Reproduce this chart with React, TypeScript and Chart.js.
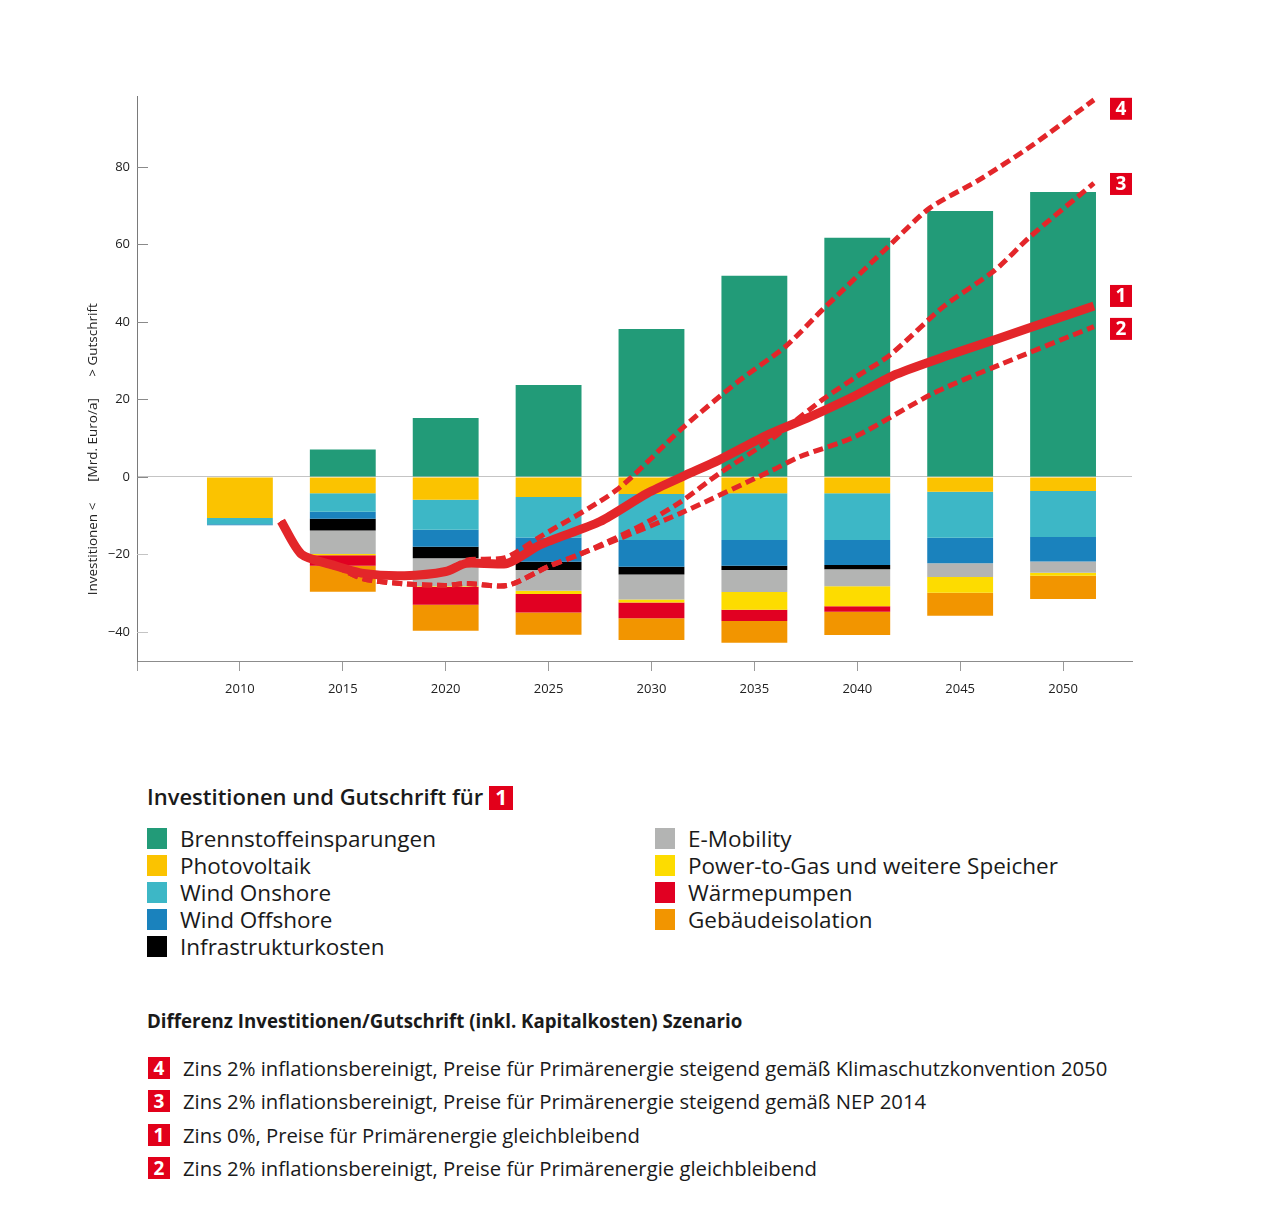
import { useEffect, useRef } from 'react';
import { Chart, registerables } from 'chart.js';

Chart.register(...registerables);

// ---------- data ----------
const years = [2010, 2015, 2020, 2025, 2030, 2035, 2040, 2045, 2050];
const brennstoff = [0, 7.1, 15.2, 23.7, 38.2, 51.9, 61.7, 68.6, 73.5];
const photovoltaik = [-10.6, -4.2, -5.9, -5.2, -4.4, -4.2, -4.2, -3.8, -3.6];
const windOnshore = [-1.6, -4.8, -7.7, -10.4, -11.9, -12.1, -12.1, -11.9, -11.9];
const windOffshore = [-0.3, -1.8, -4.4, -6.3, -6.9, -6.6, -6.4, -6.6, -6.3];
const infrastruktur = [0, -3.0, -3.0, -2.1, -2.0, -1.1, -1.1, 0, 0];
const eMobility = [0, -6.1, -7.2, -5.4, -6.4, -5.7, -4.4, -3.5, -2.9];
const powerToGas = [0, -0.3, -0.2, -0.8, -0.8, -4.6, -5.2, -4.1, -0.8];
const waermepumpen = [0, -2.7, -4.6, -4.8, -4.1, -2.9, -1.4, 0, 0];
const gebaeude = [0, -6.7, -6.7, -5.7, -5.6, -5.6, -6.0, -5.9, -6.0];

const s1Years = [2012, 2013, 2014.5, 2016, 2018, 2020, 2021, 2023, 2024.6, 2027.5, 2029.8, 2031.6, 2033.3, 2035.7, 2037.7, 2039.8, 2041.9, 2044.5, 2046.9, 2049.5, 2051.5];
const s1Values = [-11.4, -20.0, -22.7, -24.9, -25.5, -24.4, -22.3, -22.3, -17.5, -11.5, -4.2, 0.3, 4.4, 11, 15.5, 20.7, 26.5, 31.5, 35.8, 40.5, 44.1];

const s2Years = [2012, 2013, 2014.5, 2016, 2018, 2020, 2021, 2023, 2025, 2026.5, 2028.4, 2031.4, 2035.9, 2037.2, 2039.9, 2043.7, 2046.9, 2051.5];
const s2Values = [-11.4, -20.0, -22.7, -26.3, -27.6, -28.0, -27.5, -28.0, -23.1, -20.0, -16.0, -9.4, 1.8, 5.2, 10.4, 21.6, 28.9, 38.8];

const s3Years = [2012, 2013, 2014.5, 2016, 2018, 2020, 2021, 2023, 2025, 2026.5, 2029.4, 2031.4, 2033.3, 2035.9, 2038.3, 2040.0, 2041.6, 2044.2, 2046.7, 2048.4, 2051.5];
const s3Values = [-11.4, -20.0, -22.7, -26.3, -27.6, -28.0, -27.5, -28.0, -23.1, -20.0, -12.8, -6.5, 0.9, 10.0, 19.9, 26.0, 31.5, 44.0, 53.4, 62.0, 75.8];

const s4Years = [2012, 2013, 2014.5, 2016, 2018, 2020, 2021, 2022.9, 2024.6, 2028.3, 2031.5, 2034.3, 2036.5, 2038.3, 2041.5, 2043.5, 2045.9, 2048.4, 2051.5];
const s4Values = [-11.4, -20.0, -22.7, -24.9, -25.5, -24.4, -21.5, -20.8, -15.4, -3.4, 12.6, 25.0, 33.6, 43.1, 59.4, 69.3, 76.6, 85.2, 97.3];

const scenarioTags = ['4', '3', '1', '2'];
const scenarioTagValues = [95.0, 75.6, 46.7, 38.2];

const yTicks = [-40, -20, 0, 20, 40, 60, 80];
const xTickLabels = ['2010', '2015', '2020', '2025', '2030', '2035', '2040', '2045', '2050'];

const legendLeft = [
  { label: 'Brennstoffeinsparungen', color: '#229b78' },
  { label: 'Photovoltaik', color: '#fbc300' },
  { label: 'Wind Onshore', color: '#3db7c6' },
  { label: 'Wind Offshore', color: '#1a82bd' },
  { label: 'Infrastrukturkosten', color: '#000000' },
];
const legendRight = [
  { label: 'E-Mobility', color: '#b3b4b3' },
  { label: 'Power-to-Gas und weitere Speicher', color: '#fddc00' },
  { label: 'Wärmepumpen', color: '#e10022' },
  { label: 'Gebäudeisolation', color: '#f29500' },
];
const scenarioTexts = [
  { tag: '4', text: 'Zins 2% inflationsbereinigt, Preise für Primärenergie steigend gemäß Klimaschutzkonvention 2050' },
  { tag: '3', text: 'Zins 2% inflationsbereinigt, Preise für Primärenergie steigend gemäß NEP 2014' },
  { tag: '1', text: 'Zins 0%, Preise für Primärenergie gleichbleibend' },
  { tag: '2', text: 'Zins 2% inflationsbereinigt, Preise für Primärenergie gleichbleibend' },
];

const RED = '#e3262a';
const TAG_RED = '#e2001a';
const FONT = '"Open Sans", "Noto Sans", sans-serif';

export default function App() {
  const ref = useRef<HTMLCanvasElement>(null);

  useEffect(() => {
    const canvas = ref.current!;
    const series = [
      { label: 'Brennstoffeinsparungen', values: brennstoff, color: '#229b78' },
      { label: 'Photovoltaik', values: photovoltaik, color: '#fbc300' },
      { label: 'Wind Onshore', values: windOnshore, color: '#3db7c6' },
      { label: 'Wind Offshore', values: windOffshore, color: '#1a82bd' },
      { label: 'Infrastrukturkosten', values: infrastruktur, color: '#000000' },
      { label: 'E-Mobility', values: eMobility, color: '#b3b4b3' },
      { label: 'Power-to-Gas und weitere Speicher', values: powerToGas, color: '#fddc00' },
      { label: 'Wärmepumpen', values: waermepumpen, color: '#e10022' },
      { label: 'Gebäudeisolation', values: gebaeude, color: '#f29500' },
    ];
    const barSets = series.map((s) => ({
      type: 'bar' as const,
      label: s.label,
      data: years.map((x, i) => ({ x, y: s.values[i] })),
      backgroundColor: s.color,
      borderWidth: 0,
      stack: 'bars',
      order: 3,
      categoryPercentage: 1,
      barPercentage: 0.64,
    }));
    const mkLine = (label: string, xs: number[], ys: number[], width: number, dash: number[], order: number) => ({
      type: 'line' as const,
      label,
      data: xs.map((x, i) => ({ x, y: ys[i] })),
      borderColor: RED,
      backgroundColor: RED,
      borderWidth: width,
      borderDash: dash,
      borderCapStyle: 'butt' as const,
      borderJoinStyle: 'round' as const,
      pointRadius: 0,
      tension: 0.25,
      fill: false,
      stack: label,
      order,
    });
    const lineSets = [
      mkLine('Szenario 4', s4Years, s4Values, 5, [10, 5], 1),
      mkLine('Szenario 3', s3Years, s3Values, 5, [10, 5], 1),
      mkLine('Szenario 2', s2Years, s2Values, 5, [10, 5], 1),
      mkLine('Szenario 1', s1Years, s1Values, 9, [], 0),
    ];

    const overlay = {
      id: 'overlay',
      afterDraw(chart: any) {
        const { ctx, chartArea, scales } = chart;
        const y = scales.y;
        ctx.save();
        // inner y tick marks
        yTicks.forEach((v) => {
          const py = Math.round(y.getPixelForValue(v)) + 0.5;
          ctx.strokeStyle = v < 0 ? '#c4c4c4' : '#8a8a8a';
          ctx.lineWidth = 1;
          ctx.beginPath();
          ctx.moveTo(chartArea.left, py);
          ctx.lineTo(chartArea.left + 11, py);
          ctx.stroke();
        });
        // rotated axis title pieces
        ctx.fillStyle = '#222';
        ctx.font = `13.5px ${FONT}`;
        ctx.textAlign = 'center';
        ctx.textBaseline = 'middle';
        const pieces = [
          { t: '> Gutschrift', cy: 332 },
          { t: '[Mrd. Euro/a]', cy: 432 },
          { t: 'Investitionen <', cy: 541 },
        ];
        pieces.forEach((p) => {
          ctx.save();
          ctx.translate(85, p.cy);
          ctx.rotate(-Math.PI / 2);
          ctx.fillText(p.t, 0, 0);
          ctx.restore();
        });
        // scenario tags
        scenarioTags.forEach((tag, i) => {
          const cy = y.getPixelForValue(scenarioTagValues[i]);
          const size = 22;
          const x0 = chartArea.right - size;
          ctx.fillStyle = TAG_RED;
          ctx.fillRect(x0, cy - size / 2, size, size);
          ctx.fillStyle = '#fff';
          ctx.font = `bold 19px ${FONT}`;
          ctx.textAlign = 'center';
          ctx.textBaseline = 'middle';
          ctx.fillText(tag, x0 + size / 2, cy + 1);
        });
        ctx.restore();
      },
    };

    const chart = new Chart(canvas, {
      type: 'bar',
      data: { datasets: [...barSets, ...lineSets] as any },
      options: {
        animation: false,
        responsive: false,
        maintainAspectRatio: false,
        layout: { padding: { top: 88, right: 140, left: 0, bottom: 0 } },
        plugins: { legend: { display: false }, tooltip: { enabled: false } },
        scales: {
          x: {
            type: 'linear',
            min: 2005,
            max: 2053.35,
            stacked: true,
            offset: false,
            afterFit: (s: any) => { s.height = 67; },
            border: { color: '#8c8c8c', width: 1 },
            grid: { display: true, drawOnChartArea: false, drawTicks: true, tickLength: 10, tickColor: '#9a9a9a', offset: false },
            ticks: {
              stepSize: 5,
              includeBounds: false,
              autoSkip: false,
              maxRotation: 0,
              padding: 10,
              color: '#222',
              font: { family: FONT, size: 13 },
              callback: (v: any) => {
                const idx = years.indexOf(Number(v));
                return idx >= 0 ? xTickLabels[idx] : '';
              },
            },
          },
          y: {
            min: -47.5,
            max: 98.3,
            stacked: true,
            afterFit: (s: any) => { s.width = 129; },
            border: { color: '#7a7a7a', width: 1 },
            grid: {
              drawTicks: false,
              color: (c: any) => (c.tick && c.tick.value === 0 ? '#c4c4c4' : 'rgba(0,0,0,0)'),
              lineWidth: 1,
            },
            ticks: {
              stepSize: 20,
              includeBounds: false,
              padding: 7,
              color: '#222',
              font: { family: FONT, size: 13 },
              callback: (v: any) => {
                const n = Number(v);
                if (!yTicks.includes(n)) return '';
                return n < 0 ? '\u2212' + Math.abs(n) : String(n);
              },
            },
          },
        },
      } as any,
      plugins: [overlay],
    });
    return () => chart.destroy();
  }, []);

  const tagBox = (tag: string, size: number, fs: number) => (
    <span
      style={{
        display: 'inline-flex', alignItems: 'center', justifyContent: 'center',
        width: size, height: size, background: TAG_RED, color: '#fff',
        fontWeight: 700, fontSize: fs, lineHeight: 1, fontFamily: FONT, letterSpacing: 0,
      }}
    >
      {tag}
    </span>
  );

  return (
    <div style={{ position: 'relative', width: 1264, height: 1200, fontFamily: FONT, color: '#1a1a1a' }}>
      <canvas ref={ref} width={1264} height={720} style={{ position: 'absolute', left: 0, top: 0, width: 1264, height: 720 }} />

      <div style={{ position: 'absolute', left: 139, top: 775, display: 'flex', alignItems: 'center', fontSize: 22, fontWeight: 600, lineHeight: '26px' }}>
        <span>Investitionen und Gutschrift für</span>
        <span style={{ marginLeft: 6 }}>{tagBox('1', 24, 21)}</span>
      </div>

      {legendLeft.map((it, i) => (
        <div key={it.label} style={{ position: 'absolute', left: 139, top: 817 + i * 27, height: 27, display: 'flex', alignItems: 'center' }}>
          <span style={{ width: 20, height: 21, background: it.color, display: 'inline-block' }} />
          <span style={{ marginLeft: 13, fontSize: 22.5, lineHeight: '27px' }}>{it.label}</span>
        </div>
      ))}
      {legendRight.map((it, i) => (
        <div key={it.label} style={{ position: 'absolute', left: 647, top: 817 + i * 27, height: 27, display: 'flex', alignItems: 'center' }}>
          <span style={{ width: 20, height: 21, background: it.color, display: 'inline-block' }} />
          <span style={{ marginLeft: 13, fontSize: 22.5, lineHeight: '27px' }}>{it.label}</span>
        </div>
      ))}

      <div style={{ position: 'absolute', left: 139, top: 1001, fontSize: 18.7, fontWeight: 700, lineHeight: '24px' }}>
        Differenz Investitionen/Gutschrift (inkl. Kapitalkosten) Szenario
      </div>

      {scenarioTexts.map((s, i) => (
        <div key={s.tag} style={{ position: 'absolute', left: 140, top: [1060, 1093, 1127, 1160][i] - 14, height: 28, display: 'flex', alignItems: 'center' }}>
          {tagBox(s.tag, 22, 19)}
          <span style={{ marginLeft: 13, fontSize: 20.3, lineHeight: '28px' }}>{s.text}</span>
        </div>
      ))}
    </div>
  );
}
